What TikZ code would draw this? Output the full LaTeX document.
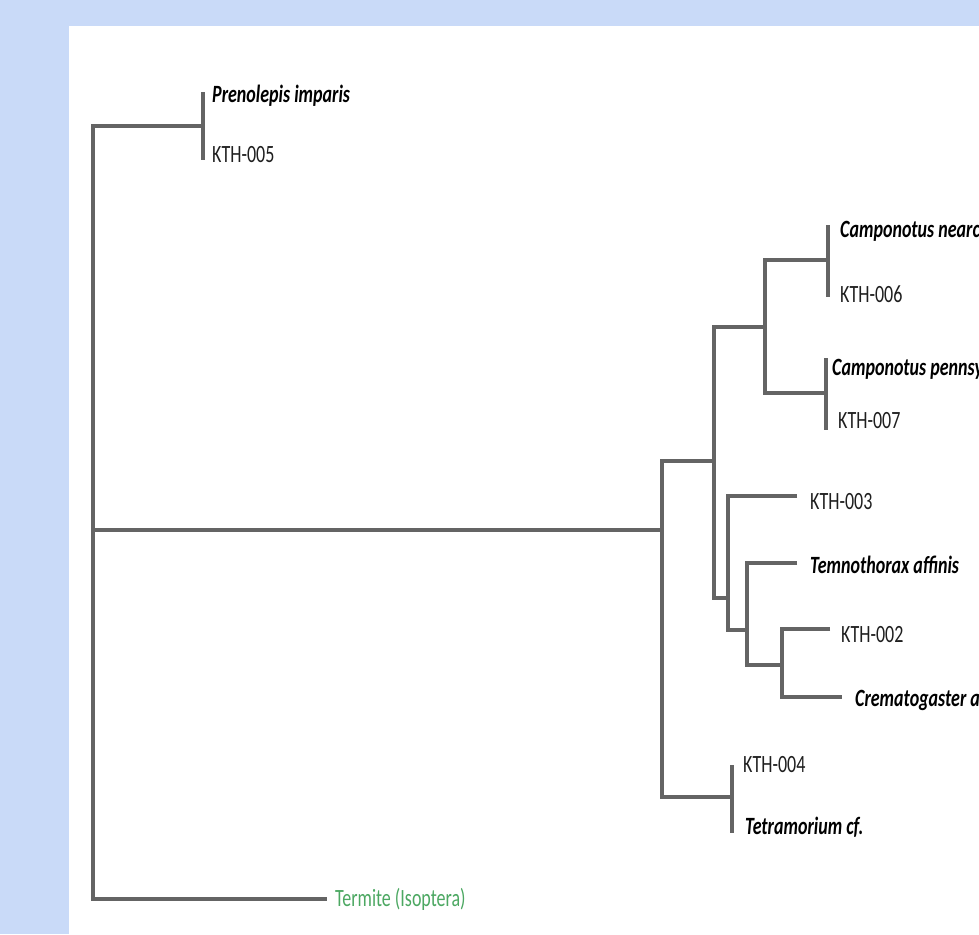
\documentclass[tikz,border=0pt]{standalone}
\usepackage{fontspec}
\setmainfont{Carlito}
\usetikzlibrary{positioning}
\definecolor{slidebg}{RGB}{201,218,248}
\definecolor{branchgray}{RGB}{100,100,100}
\definecolor{termgreen}{RGB}{76,168,98}
\tikzset{branch/.style={draw=branchgray, line width=4.5pt}}
\tikzset{taxon/.style={inner sep=0pt, font=\fontsize{18}{20}\selectfont, text=black!88, yscale=1.38, transform shape}}
\tikzset{species/.style={taxon, font=\fontsize{18}{20}\selectfont\bfseries\itshape, text=black}}
\tikzset{outgroup/.style={taxon, text=termgreen}}

\begin{document}
\begin{tikzpicture}[x=1pt, y=-1pt]
        \useasboundingbox (0,0) rectangle (979,934);
        \clip (0,0) rectangle (979,934);
        \fill[slidebg] (0,0) rectangle (979,934);
        \fill[white] (69,26) rectangle (979,934);

        \coordinate (root) at (93,530);
        \coordinate (prenode) at (203,126);
        \coordinate (tipPre) at (203,92);
        \coordinate (tip005) at (203,160);
        \coordinate (tipTer) at (327,899);
        \coordinate (ingroup) at (662,530);
        \coordinate (formic) at (714,461);
        \coordinate (campo) at (765,327);
        \coordinate (campoN) at (828,260);
        \coordinate (tipCn) at (828,225);
        \coordinate (tip006) at (828,297);
        \coordinate (campoP) at (826,393);
        \coordinate (tipCp) at (826,358);
        \coordinate (tip007) at (826,430);
        \coordinate (myrm) at (728,598);
        \coordinate (tip003) at (797,496);
        \coordinate (myrmA) at (747,630);
        \coordinate (tipTem) at (797,563);
        \coordinate (myrmB) at (782,665);
        \coordinate (tip002) at (830,629);
        \coordinate (tipCre) at (842,697);
        \coordinate (tetra) at (732,797);
        \coordinate (tip004) at (732,765);
        \coordinate (tipTet) at (732,833);

        \draw [branch] (prenode) -| (root) |- (tipTer);
        \draw [branch] (root) -- (ingroup);
        \draw [branch] (tipPre) -- (tip005);
        \draw [branch] (formic) -| (ingroup) |- (tetra);
        \draw [branch] (campo) -| (formic) |- (myrm);
        \draw [branch] (campoN) -| (campo) |- (campoP);
        \draw [branch] (tipCn) -- (tip006);
        \draw [branch] (tipCp) -- (tip007);
        \draw [branch] (tip003) -| (myrm) |- (myrmA);
        \draw [branch] (tipTem) -| (myrmA) |- (myrmB);
        \draw [branch] (tip002) -| (myrmB) |- (tipCre);
        \draw [branch] (tip004) -- (tipTet);

        \node [species, right=9pt of tipPre, yshift=-3pt] (lPre) {Prenolepis imparis};
        \node [taxon, right=9pt of tip005, yshift=4pt] (l005) {KTH-005};
        \node [species, right=12pt of tipCn, yshift=-4pt] (lCn) {Camponotus nearcticus};
        \node [taxon, right=12pt of tip006, yshift=2pt] (l006) {KTH-006};
        \node [species, right=6pt of tipCp, yshift=-8pt] (lCp) {Camponotus pennsylvanicus};
        \node [taxon, right=12pt of tip007, yshift=7pt] (l007) {KTH-007};
        \node [taxon, right=13pt of tip003, yshift=-4pt] (l003) {KTH-003};
        \node [species, right=13pt of tipTem, yshift=-1pt] (lTem) {Temnothorax affinis};
        \node [taxon, right=11pt of tip002, yshift=-4pt] (l002) {KTH-002};
        \node [species, right=13pt of tipCre, yshift=-2pt] (lCre) {Crematogaster ashmeadi};
        \node [taxon, right=11pt of tip004] (l004) {KTH-004};
        \node [species, right=13pt of tipTet, yshift=4pt] (lTet) {Tetramorium cf.};
        \node [outgroup, right=8pt of tipTer] (lTer) {Termite (Isoptera)};
\end{tikzpicture}
\end{document}
